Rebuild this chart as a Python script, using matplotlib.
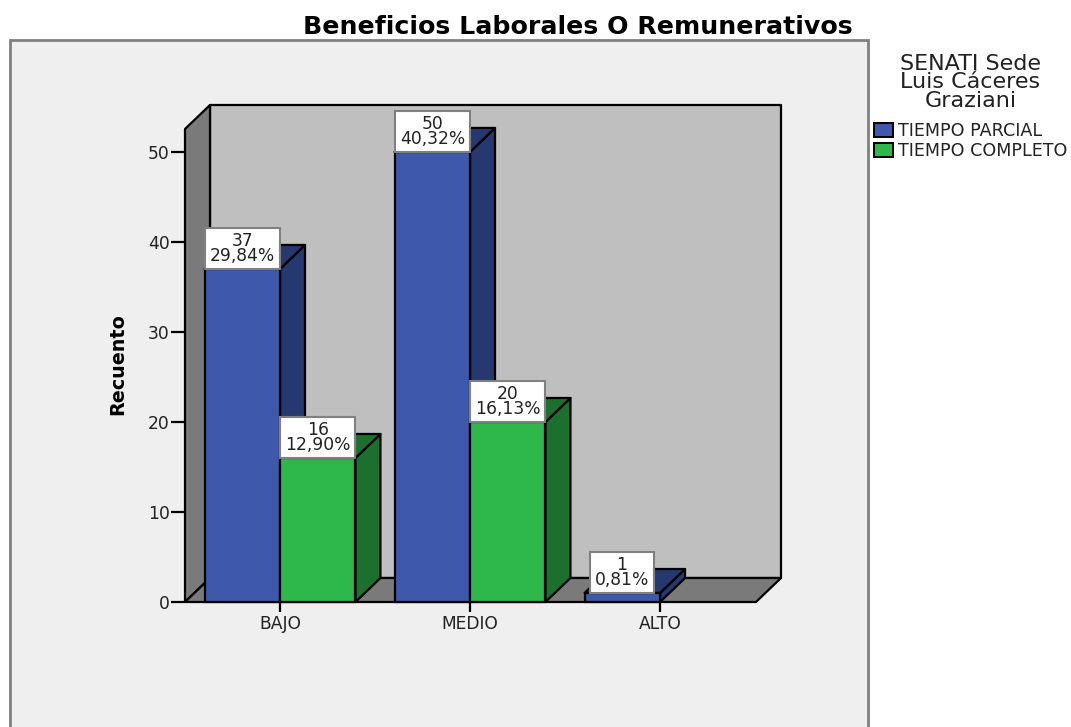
import matplotlib
matplotlib.use("Agg")
import matplotlib.pyplot as plt
from matplotlib.patches import Patch, Polygon, Rectangle

plt.rcParams["font.family"] = ["DejaVu Sans"]

# ============================================================
# DATA
# ============================================================

categories = ["BAJO", "MEDIO", "ALTO"]
parcial = [37, 50, 1]
completo = [16, 20, 0]
parcial_pct = ["29,84%", "40,32%", "0,81%"]
completo_pct = ["12,90%", "16,13%", ""]
y_ticks = [0, 10, 20, 30, 40, 50]

title = "Beneficios Laborales O Remunerativos"
legend_title = "SENATI Sede\nLuis Cáceres\nGraziani"
legend_names = ["TIEMPO PARCIAL", "TIEMPO COMPLETO"]

# ============================================================
# STYLE
# ============================================================

W, H = 1071, 727
BLUE, BLUE_DARK = "#3E58AC", "#25386F"
GREEN, GREEN_DARK = "#2EB84C", "#1C702E"
WALL, SIDE = "#BFBFBF", "#7A7A7A"
PANEL = "#EFEFEF"
TEXT = "#222222"

BAR_W = 0.397
DX = 25 / 190   # depth of the fake 3D, x units
DY = 24 / 9     # depth of the fake 3D, y units
XMIN, XMAX = -0.5, 2.505
YMAX = 52.55
LW = 1.6

fig = plt.figure(figsize=(W / 100, H / 100), dpi=100, facecolor="white")

# outer panel, runs off the bottom of the image
fig.add_artist(Rectangle((10 / W, -0.05), 858 / W, 1 - 40 / H + 0.05,
                         transform=fig.transFigure, facecolor=PANEL,
                         edgecolor="#808080", linewidth=2, zorder=-1))

ax = fig.add_axes([185 / W, 1 - 602 / H, 571 / W, 473 / H])
ax.set_xlim(XMIN, XMAX)
ax.set_ylim(0, YMAX)
ax.patch.set_visible(False)
for s in ax.spines.values():
    s.set_visible(False)


def face(pts, color, z):
    ax.add_patch(Polygon(pts, closed=True, facecolor=color, edgecolor="black",
                         linewidth=LW, clip_on=False, zorder=z, joinstyle="round"))


# back wall, side wall, floor
face([(XMIN + DX, DY), (XMAX + DX, DY), (XMAX + DX, YMAX + DY), (XMIN + DX, YMAX + DY)], WALL, 1)
face([(XMIN, 0), (XMIN + DX, DY), (XMIN + DX, YMAX + DY), (XMIN, YMAX)], SIDE, 1)
face([(XMIN, 0), (XMAX, 0), (XMAX + DX, DY), (XMIN + DX, DY)], SIDE, 1)


def bar3d(left, value, color, dark, z):
    if value <= 0:
        return
    right = left + BAR_W
    face([(right, 0), (right + DX, DY), (right + DX, value + DY), (right, value)], dark, z)
    face([(left, value), (right, value), (right + DX, value + DY), (left + DX, value + DY)], dark, z)
    ax.bar(left, value, BAR_W, align="edge", color=color, edgecolor="black",
           linewidth=LW, clip_on=False, zorder=z + 0.1)


def value_label(left, value, pct, width, z):
    if value <= 0:
        return
    ax.add_patch(Rectangle((left, value), width, 4.6, facecolor="white", edgecolor="#808080",
                           linewidth=1.5, clip_on=False, zorder=z))
    ax.text(left + width / 2, value + 2.3, f"{value}\n{pct}", ha="center", va="center",
            fontsize=12.3, linespacing=0.82, color=TEXT, zorder=z + 0.1)


for i in range(len(categories)):
    bar3d(i - BAR_W, parcial[i], BLUE, BLUE_DARK, 3 + i)
    bar3d(i, completo[i], GREEN, GREEN_DARK, 3.5 + i)

for i in range(len(categories)):
    w = BAR_W if parcial[i] > 1 else 0.34
    left = i - BAR_W if parcial[i] > 1 else i - 0.37
    value_label(left, parcial[i], parcial_pct[i], w, 10)
    value_label(i, completo[i], completo_pct[i], BAR_W, 10)

ax.set_yticks(y_ticks)
ax.set_xticks(range(len(categories)))
ax.set_xticklabels(categories)
ax.tick_params(axis="y", length=10, width=1.6, color="black", labelsize=12.3, labelcolor=TEXT, pad=1)
ax.tick_params(axis="x", length=7.5, width=1.6, color="black", labelsize=12.3, labelcolor=TEXT, pad=2)

fig.text(118 / W, 1 - 364 / H, "Recuento", rotation=90, ha="center", va="center",
         fontsize=13.8, fontweight="bold", color="black")
fig.text(578 / W, 1 - 27 / H, title, ha="center", va="center", fontsize=18.2,
         fontweight="bold", color="black")

handles = [Patch(facecolor=BLUE, edgecolor="black", linewidth=1.4),
           Patch(facecolor=GREEN, edgecolor="black", linewidth=1.4)]
leg = fig.legend(handles, legend_names, title=legend_title, frameon=False,
                 loc="upper left", bbox_to_anchor=(870 / W, 1 - 50 / H),
                 bbox_transform=fig.transFigure, borderpad=0.2, borderaxespad=0,
                 fontsize=12.6, title_fontsize=16, handlelength=1.1, handleheight=0.9,
                 handletextpad=0.3, labelspacing=0.12, labelcolor=TEXT)
leg.get_title().set_linespacing(0.92)
leg.get_title().set_color(TEXT)
leg.get_title().set_multialignment("center")
leg._legend_box.sep = 8

fig.savefig("out.png", dpi=100)
